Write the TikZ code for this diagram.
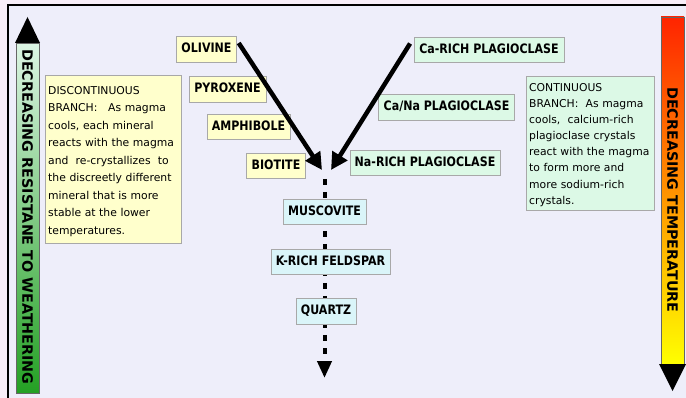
\documentclass[tikz,border=0pt]{standalone}
\usepackage{fontspec}
\setmainfont{DejaVu Sans}
\newfontfamily\lblfont[FakeStretch=0.85]{DejaVu Sans}
\usetikzlibrary{calc}
\usetikzlibrary{shapes,arrows.meta}

\definecolor{pagepink}{HTML}{F8EEF8}
\definecolor{lavender}{HTML}{EEEEFA}
\definecolor{paleyellow}{HTML}{FFFFCC}
\definecolor{palemint}{HTML}{DCF9E6}
\definecolor{palecyan}{HTML}{DAF5F9}
\definecolor{boxgray}{HTML}{A8A8A8}
\definecolor{greentop}{HTML}{DCF5E4}
\definecolor{greenbot}{HTML}{24A024}
\definecolor{tempred}{HTML}{FF2400}
\definecolor{temporange}{HTML}{FFA000}
\definecolor{tempyellow}{HTML}{FFFF00}

\tikzset{
  mineral/.style={draw=boxgray, inner xsep=5pt, inner ysep=7pt,
    text height=9.5pt, text depth=2pt,
    font=\lblfont\bfseries\fontsize{13}{15}\selectfont},
  explain/.style={draw=boxgray, anchor=north west, align=left, inner xsep=3pt},
  bartext/.style={font=\bfseries\fontsize{14.3}{16}\selectfont, rotate=-90},
  bigarrow/.style={line width=4.5pt, -{Triangle[length=17pt,width=17pt]}},
  dotflow/.style={line width=4pt, dash pattern=on 6pt off 7pt,
    -{Triangle[length=17pt,width=14pt]}}
}

\begin{document}
\begin{tikzpicture}[x=1pt,y=-1pt]
    \useasboundingbox (0,0) rectangle (686,398);
    \clip (0,0) rectangle (686,398);
    \fill[pagepink] (0,0) rectangle (686,398);
    \fill[lavender] (7.5,5) rectangle (700,410);
    \draw[line width=2pt] (7.5,5) rectangle (700,410);

    \shade[top color=greentop, bottom color=greenbot, draw=black!60] (16,43) rectangle (39,393);
    \fill (15,43) -- (27.5,17) -- (40,43) -- cycle;
    \node[bartext] (resist) at (27.5,217) {DECREASING RESISTANE TO WEATHERING};

    \shade[top color=tempred, middle color=temporange, bottom color=tempyellow, draw=black!60] (661,17) rectangle (684,364);
    \fill (659,364) -- (672.5,391) -- (686,364) -- cycle;
    \node[bartext] (temp) at (672.5,200) {DECREASING TEMPERATURE};

    \coordinate (meetL) at (322,170);
    \coordinate (meetR) at (331,170);
    \coordinate (flowtop) at (324.5,179);
    \coordinate (flowend) at (324.5,378);

    \draw[dotflow] (flowtop) -- (flowend);

    \node[mineral, fill=paleyellow] (olivine) at (206.5,49) {OLIVINE};
    \node[mineral, fill=paleyellow] (pyroxene) at (227.5,89) {PYROXENE};
    \node[mineral, fill=paleyellow] (amphibole) at (248.5,126.5) {AMPHIBOLE};
    \node[mineral, fill=paleyellow] (biotite) at (276,165.5) {BIOTITE};
    \node[mineral, fill=palemint] (caplag) at (489,49.5) {Ca-RICH PLAGIOCLASE};
    \node[mineral, fill=palemint] (canaplag) at (446.5,107) {Ca/Na PLAGIOCLASE};
    \node[mineral, fill=palemint] (naplag) at (425,162.5) {Na-RICH PLAGIOCLASE};
    \node[mineral, fill=palecyan] (muscovite) at (324.5,211.5) {MUSCOVITE};
    \node[mineral, fill=palecyan] (kfeldspar) at (330.5,261.5) {K-RICH FELDSPAR};
    \node[mineral, fill=palecyan] (quartz) at (326,311) {QUARTZ};

    \draw[bigarrow] ($(olivine.east)+(2,-6)$) -- (meetL);
    \draw[bigarrow] ($(caplag.west)+(-4,-6)$) -- (meetR);

    \node[explain, fill=paleyellow, text width=130pt, inner ysep=7pt,
      font=\fontsize{10.8}{17.5}\selectfont] (discbox) at (45,75)
      {\strut DISCONTINUOUS\\
       BRANCH:\ \ \ As magma\\
       cools, each mineral\\
       reacts with the magma\\
       and\ \ re-crystallizes\ \ to\\
       the discreetly different\\
       mineral that is more\\
       stable at the lower\\
       temperatures.};

    \node[explain, fill=palemint, text width=122pt, inner ysep=4pt,
      font=\fontsize{10.8}{16.1}\selectfont] (contbox) at (526,76)
      {\strut CONTINUOUS\\
       BRANCH:\ \ As magma\\
       cools,\ \ calcium-rich\\
       plagioclase crystals\\
       react with the magma\\
       to form more and\\
       more sodium-rich\\
       crystals.\par\vspace*{26pt}};
\end{tikzpicture}
\end{document}
